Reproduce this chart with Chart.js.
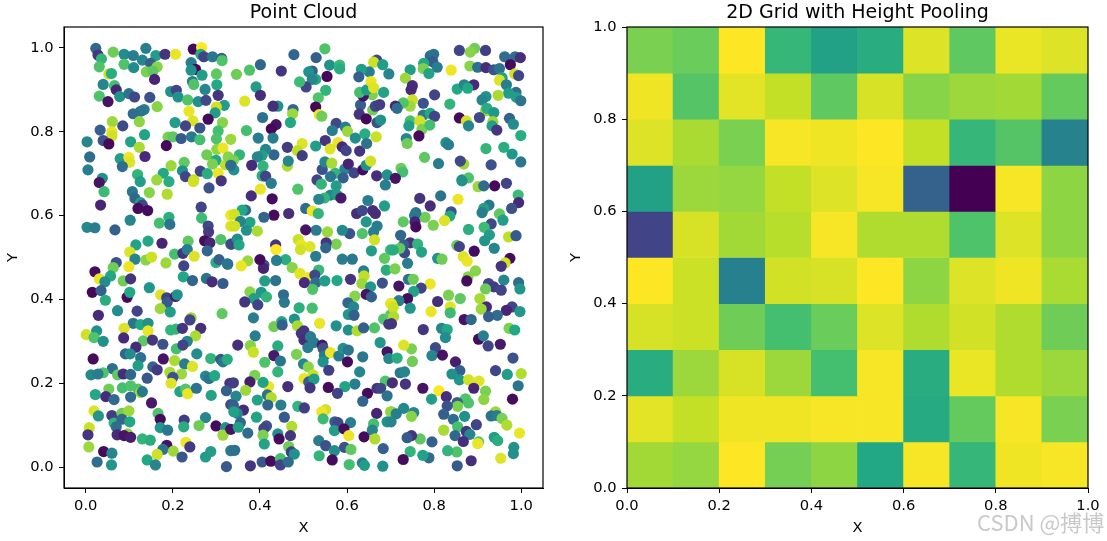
<!DOCTYPE html>
<html>
<head>
<meta charset="utf-8">
<style>
  html, body { margin: 0; padding: 0; background: #fff; width: 1107px; height: 541px; overflow: hidden; }
  canvas { position: absolute; top: 0; }
  #cloud { left: 0; }
  #grid { left: 563px; }
  #mark { position: absolute; left: 977px; top: 505px; font: 22px "Noto Sans CJK SC", "DejaVu Sans", sans-serif; color: #c9c9c9; white-space: nowrap; }
</style>
</head>
<body>
<canvas id="cloud" width="607" height="541"></canvas>
<canvas id="grid" width="589" height="541"></canvas>
<div id="mark">CSDN @搏博</div>
<script src="https://cdn.jsdelivr.net/npm/chart.js@4"></script>
<script>
const cloudX = [
.023,.028,.036,.031,.063,.088,.088,.109,.130,.138,.161,.110,.149,.164,.139,.154,.158,.182,.206,.247,
.266,.264,.271,.291,.312,.313,.242,.252,.242,.267,.300,.053,.059,.040,.066,.070,.031,.051,.078,.099,
.112,.147,.164,.195,.208,.212,.234,.258,.276,.274,.245,.248,.301,.304,.318,.300,.297,.237,.246,.281,
.314,.304,.262,.229,.205,.134,.126,.109,.123,.061,.085,.033,.060,.060,.040,.053,.003,.103,.135,.123,
.189,.200,.185,.219,.243,.262,.300,.333,.301,.315,.278,.009,.079,.099,.101,.136,.084,.005,.196,.226,
.263,.222,.299,.291,.304,.279,.321,.327,.119,.038,.178,.163,.229,.248,
.478,.529,.549,.401,.376,.346,.449,.560,.583,.583,.668,.661,.682,.651,.633,.627,.696,.520,.512,.528,
.520,.506,.491,.554,.551,.391,.401,.365,.534,.528,.536,.542,.476,.475,.441,.430,.406,.470,.437,.426,
.369,.396,.430,.463,.497,.486,.497,.528,.550,.579,.561,.589,.598,.629,.575,.566,.596,.601,.619,.641,
.645,.667,.631,.628,.644,.659,.665,.675,.669,.677,.658,.637,.629,.645,.655,.661,.684,.463,.465,.432,
.413,.405,.394,.381,.407,.340,.353,.339,.333,.405,.413,.531,.543,.549,.565,.573,.562,.595,.603,.616,
.636,.644,.654,.668,.692,.591,
.858,.893,.883,.918,.962,.986,.998,.975,.985,.994,.791,.799,.797,.807,.776,.775,.788,.839,.882,.900,
.919,.937,.950,.745,.734,.956,.950,.966,.750,.747,.853,.869,.891,.877,.801,.988,.971,.947,.919,.910,
.989,.999,.775,.836,.750,.745,.729,.711,.715,.918,.921,.937,.775,.791,.801,.858,.874,.879,.904,.935,
.933,.944,.973,.982,.999,.745,.742,.767,.772,.790,.765,.736,.738,.827,.833,.919,.960,.979,.999,.778,
.810,.868,.860,.931,.724,.728,.711,.864,.879,
.031,.042,.107,.113,.125,.126,.130,.120,.142,.146,.187,.191,.034,.283,.311,.247,.265,.266,.281,.282,
.273,.285,.310,.279,.333,.333,.333,.102,.191,.169,.193,.003,.021,.067,.115,.143,.175,.235,.101,.113,
.138,.151,.184,.204,.223,.233,.249,.225,.224,.245,.277,.290,.315,.299,.306,.325,.070,.063,.099,.021,
.031,.057,.044,.086,.103,.015,.035,.045,.095,.101,.146,.172,.186,.187,.206,.210,.171,.194,.118,.073,
.029,.242,.239,.313,.109,.126,.143,.088,.143,.025,.207,.195,.222,.264,
.426,.487,.401,.380,.428,.541,.575,.562,.548,.535,.577,.586,.648,.688,.686,.505,.520,.534,.466,.432,
.409,.367,.359,.341,.377,.355,.342,.369,.394,.622,.635,.659,.665,.644,.669,.661,.635,.606,.589,.555,
.529,.505,.488,.663,.575,.552,.551,.515,.495,.493,.436,.437,.335,.348,.352,.656,.700,.528,.459,.438,
.409,.408,.400,.372,.357,.326,.589,.612,.686,.474,.492,.510,.535,.526,.502,.528,.521,.549,.577,.608,
.638,.639,.634,.654,.681,.690,.411,.436,.377,.403,.386,.415,.365,.395,.454,.456,.618,.644,.656,.602,
.615,.603,.616,.490,.520,.700,.684,.696,.700,.385,.537,.575,.479,.450,.432,.451,.486,.501,.603,.623,
.638,.663,
.864,.901,.914,.939,.966,.767,.815,.791,.855,.993,.994,.978,.926,.914,.910,.950,.958,.931,.839,.836,
.824,.798,.779,.758,.755,.756,.758,.729,.879,.915,.927,.916,.971,.988,.938,.723,.745,.762,.771,.730,
.732,.721,.706,.852,.858,.892,.867,.876,.808,.818,.974,.963,.954,.739,.710,.895,.878,.875,.960,.994,
.997,.925,.937,.954,.918,.741,.752,.719,.791,.770,.753,.739,.719,.702,.706,.745,.808,.833,.860,.905,
.920,.908,.837,.837,.793,.979,.966,.997,.945,.925,.869,.885,.707,.702,.775,.817,.830,.972,.985,
.001,.019,.040,.087,.132,.115,.153,.177,.252,.208,.233,.223,.255,.017,.091,.102,.126,.120,.178,.204,
.227,.245,.154,.164,.061,.040,.012,.028,.073,.086,.103,.141,.193,.220,.200,.196,.275,.283,.296,.287,
.310,.315,.325,.331,.022,.053,.046,.065,.084,.103,.120,.126,.130,.103,.151,.216,.229,.234,.254,.288,
.323,.333,.019,.029,.060,.065,.083,.099,.083,.101,.070,.166,.171,.171,.188,.226,.225,.275,.260,.299,
.321,.315,.333,.008,.005,.072,.096,.088,.103,.007,.130,.148,.230,.239,.186,.177,.201,.164,.141,.160,
.221,.041,.060,.026,.059,.275,.287,.323,.333,
.389,.441,.349,.378,.385,.432,.447,.411,.441,.484,.495,.501,.516,.510,.524,.543,.545,.548,.545,.562,
.581,.591,.603,.601,.636,.676,.692,.696,.500,.511,.558,.629,.522,.501,.512,.524,.515,.688,.618,.595,
.557,.578,.464,.420,.407,.388,.377,.367,.339,.345,.394,.417,.426,.418,.448,.487,.502,.647,.669,.677,
.692,.636,.668,.700,.551,.542,.545,.339,.362,.348,.340,.392,.355,.350,.372,.456,.415,.409,.407,.410,
.473,.441,.470,.444,.466,.472,.479,.572,.579,.608,.571,.593,.604,.535,.551,.571,.594,.609,.536,.566,
.661,.658,.639,.664,.683,.692,.342,.378,.405,.425,.447,.447,.465,.605,.635,.640,.682,
.826,.902,.913,.924,.952,.981,.941,.968,1.000,.993,.980,.748,.730,.715,.750,.803,.795,.819,.849,.859,
.841,.858,.879,.903,.891,.918,.914,.722,.732,.704,.734,.774,.811,.828,.794,.872,.879,.853,.854,.830,
.822,.844,.870,.897,.854,.822,.874,.882,.848,.867,.902,.900,.702,.730,.753,.713,.748,.701,.941,.931,
.944,.956,.967,.996,.938,.946,.983,.982,.953,.885,.853,.852,.831,.788,.774,.745,.729,.768,.795,.748,
.738
];
const cloudY = [
.999,.983,.974,.955,.990,.985,.961,.982,.971,.999,.982,.953,.963,.955,.943,.945,.925,.985,.985,.997,
1.001,.985,.979,.979,.975,.970,.965,.949,.947,.935,.938,.938,.939,.913,.910,.900,.885,.872,.884,.891,
.883,.882,.860,.896,.899,.883,.876,.872,.875,.901,.920,.913,.912,.887,.863,.859,.845,.849,.826,.830,
.822,.802,.809,.814,.822,.853,.849,.843,.824,.824,.814,.804,.800,.790,.779,.771,.776,.776,.793,.763,
.787,.788,.767,.784,.788,.781,.783,.782,.758,.761,.745,.740,.736,.739,.727,.741,.717,.709,.719,.727,
.706,.707,.732,.723,.701,.700,.721,.740,.698,.689,.701,.685,.693,.685,
.984,.977,.998,.960,.947,.937,.945,.959,.959,.950,.971,.966,.960,.943,.949,.931,.938,.945,.943,.925,
.925,.907,.919,.932,.899,.907,.887,.873,.881,.859,.841,.837,.853,.843,.861,.861,.834,.822,.817,.807,
.803,.785,.785,.763,.772,.755,.743,.766,.779,.774,.759,.764,.755,.754,.820,.803,.811,.801,.785,.795,
.772,.788,.864,.842,.831,.852,.861,.865,.822,.828,.888,.885,.894,.900,.920,.905,.894,.718,.730,.745,
.758,.744,.740,.720,.718,.709,.745,.732,.720,.695,.694,.685,.710,.728,.725,.701,.693,.711,.723,.702,
.709,.720,.730,.695,.697,.690,
.994,.999,.990,.994,.979,.979,.977,.960,.938,.934,.981,.985,.967,.954,.963,.951,.939,.947,.957,.954,
.953,.948,.951,.948,.928,.929,.923,.912,.910,.900,.902,.912,.912,.904,.888,.894,.892,.887,.884,.876,
.882,.874,.868,.866,.876,.861,.869,.861,.856,.850,.856,.846,.840,.844,.837,.833,.826,.814,.834,.824,
.814,.804,.832,.818,.791,.826,.814,.826,.806,.816,.790,.784,.772,.774,.769,.760,.763,.747,.728,.739,
.724,.723,.730,.721,.713,.704,.689,.685,.690,
.679,.657,.657,.641,.681,.631,.625,.617,.612,.655,.651,.681,.625,.666,.683,.681,.620,.594,.575,.561,
.540,.535,.543,.516,.532,.601,.575,.589,.596,.582,.579,.572,.571,.566,.530,.539,.534,.539,.513,.496,
.494,.501,.487,.508,.510,.519,.503,.480,.454,.445,.450,.442,.438,.488,.495,.485,.488,.476,.478,.466,
.449,.456,.442,.444,.449,.417,.421,.398,.405,.417,.428,.411,.404,.393,.407,.411,.378,.370,.372,.373,
.362,.356,.351,.366,.343,.340,.343,.331,.325,.325,.329,.327,.331,.331,
.677,.663,.663,.647,.640,.675,.671,.649,.642,.639,.649,.642,.636,.673,.623,.617,.611,.605,.605,.601,
.596,.613,.613,.603,.584,.586,.575,.565,.563,.605,.612,.612,.605,.585,.575,.561,.557,.557,.565,.561,
.565,.566,.543,.542,.532,.535,.523,.526,.530,.519,.530,.519,.532,.544,.530,.516,.518,.503,.495,.493,
.482,.474,.495,.492,.480,.484,.496,.496,.498,.476,.462,.452,.470,.458,.440,.440,.424,.444,.445,.448,
.468,.456,.438,.430,.439,.470,.444,.445,.418,.417,.402,.406,.394,.387,.411,.393,.408,.412,.406,.392,
.382,.364,.362,.380,.379,.390,.353,.341,.363,.356,.343,.337,.353,.347,.335,.339,.337,.325,.327,.325,
.332,.332,
.683,.669,.671,.671,.677,.641,.647,.623,.639,.649,.631,.617,.625,.617,.607,.604,.589,.580,.609,.599,
.588,.577,.596,.607,.600,.585,.573,.585,.567,.572,.554,.540,.549,.552,.522,.553,.535,.532,.513,.530,
.511,.522,.518,.529,.526,.515,.502,.491,.498,.496,.498,.487,.479,.486,.473,.468,.454,.444,.446,.440,
.425,.438,.430,.422,.425,.448,.448,.432,.437,.427,.419,.402,.397,.390,.381,.379,.395,.410,.402,.402,
.382,.377,.382,.368,.371,.382,.374,.371,.362,.359,.352,.352,.359,.342,.328,.331,.328,.331,.327,
.316,.309,.300,.308,.301,.286,.303,.293,.313,.282,.300,.291,.270,.258,.270,.270,.261,.242,.258,.254,
.246,.240,.239,.232,.235,.225,.220,.222,.220,.222,.221,.212,.226,.222,.214,.200,.217,.211,.218,.259,
.257,.251,.257,.200,.173,.186,.168,.161,.189,.194,.186,.178,.180,.167,.153,.180,.186,.175,.188,.171,
.182,.149,.134,.122,.123,.105,.128,.134,.114,.108,.096,.128,.114,.094,.088,.112,.096,.118,.099,.098,
.094,.076,.090,.094,.077,.077,.079,.075,.071,.048,.067,.064,.059,.048,.052,.042,.038,.030,.017,.005,
.024,.037,.033,.012,.005,.024,.037,.001,.039,
.313,.289,.291,.290,.274,.266,.253,.250,.227,.269,.319,.303,.311,.285,.297,.291,.283,.266,.251,.273,
.265,.283,.279,.251,.263,.297,.275,.259,.246,.239,.231,.227,.220,.211,.203,.210,.189,.205,.198,.192,
.190,.176,.192,.192,.202,.219,.203,.183,.201,.169,.160,.172,.166,.148,.148,.145,.141,.176,.188,.188,
.170,.157,.128,.132,.137,.132,.115,.147,.136,.128,.132,.119,.106,.095,.081,.119,.098,.092,.076,.055,
.097,.079,.075,.067,.049,.036,.031,.108,.106,.106,.087,.091,.075,.063,.051,.039,.047,.042,.027,.017,
.103,.088,.072,.067,.044,.108,.040,.003,.012,.014,.020,.005,.012,.006,.010,.004,.002,
.309,.305,.313,.289,.293,.260,.230,.221,.223,.194,.162,.282,.291,.260,.252,.285,.266,.267,.251,.230,
.222,.208,.208,.205,.188,.181,.161,.225,.227,.201,.198,.188,.182,.168,.162,.163,.153,.154,.145,.146,
.126,.114,.121,.101,.096,.088,.085,.078,.075,.061,.060,.056,.132,.140,.130,.127,.121,.108,.132,.122,
.123,.116,.100,.081,.071,.063,.047,.032,.021,.015,.003,.036,.039,.022,.028,.037,.018,.067,.060,.075,
.070
];
const cloudHeight = [
.33,.15,.65,.72,.78,.48,.72,.42,.45,.42,.55,.48,.30,.82,.80,.75,.10,.15,.97,.02,
1,.62,.20,.40,.30,.72,.42,.02,.50,.55,.75,.92,.62,.45,.70,.10,.72,.05,.50,.38,
.22,.25,.82,.50,.20,.50,.72,.50,.22,.45,.42,.72,.60,.15,.55,.93,.55,.97,.95,.03,
.82,.70,.25,.20,.55,.42,.38,.35,.83,.85,.22,.30,.97,.93,.25,.02,.45,.58,.58,.87,
.80,.75,.02,.28,.40,.70,.72,.85,.83,.98,.78,.35,.55,.98,.95,.12,.35,.42,.85,.75,
.20,.50,.60,.80,.97,.62,.90,.82,.65,.50,.60,.85,.20,.90,
.32,.30,.72,.33,.72,.78,.15,.50,.67,.62,.20,.92,.55,.42,.55,.30,.45,.30,.50,.60,
.45,.20,.68,.02,.65,.55,.13,.95,.72,.02,.97,.78,.33,.85,.50,.13,.37,.60,.05,.02,
.70,.42,.42,.17,.95,.90,.18,.55,.15,.97,.95,.12,.20,.15,.22,.42,.42,.85,.48,.62,
.38,.92,.30,.15,.02,.78,.20,.18,.25,.50,.80,.05,.70,.55,.97,.95,.58,.88,.45,.33,
.45,.55,.45,.12,.65,.50,.65,.80,.35,.62,.20,.20,.25,.45,.87,.65,.40,.45,.10,.20,
.03,.50,.93,.13,.50,.30,
.20,.78,.82,.18,.35,.35,.13,.03,.92,.20,.35,.37,.28,.42,.60,.80,.58,.98,.82,.37,
.13,.25,.38,.55,.85,.58,.95,.42,.13,.12,.60,.45,.12,.60,.20,.35,.55,.87,.50,.45,
.55,.38,.25,.65,.92,.85,.72,.10,.35,.85,.62,.52,.40,.60,.20,.02,.93,.45,.22,.85,
.55,.15,.32,.48,.62,.70,.55,.93,.80,.70,.03,.45,.78,.50,.42,.65,.62,.52,.40,.75,
.42,.85,.22,.25,.78,.70,.05,.45,.72,
.05,.68,.40,.33,.55,.57,.20,.03,.03,.82,.88,.62,.10,.25,.15,.93,.20,.68,.22,.17,
.03,.10,.72,.33,.27,.98,.95,.45,.63,.70,.38,.47,.42,.30,.58,.60,.10,.75,.95,.45,
.82,.92,.85,.70,.15,.42,.95,.20,.60,.32,.38,.13,.28,.62,.30,.42,.25,.78,.98,.03,
.97,.60,.48,.78,.15,.02,.30,.62,.03,.60,.52,.95,.18,.28,.07,.50,.85,.55,.20,.48,
.12,.85,.20,.75,.38,.60,.50,.95,.97,.50,.65,.65,.15,.13,
.42,.72,.97,.13,.03,.65,.55,.47,.65,.45,.55,.07,.42,.42,.55,.35,.98,.65,.13,.03,
.33,.35,.60,.93,.58,.45,.93,.50,.87,.13,.22,.13,.13,.53,.42,.42,.72,.25,.47,.85,
.42,.05,.92,.93,.80,.15,.33,.95,.97,.93,.15,1,.22,.48,.60,.55,.65,.42,.62,.42,
.25,.10,.03,.85,.97,.38,.42,.40,.75,.82,.96,.98,.67,.22,.12,.35,.72,.55,.60,.15,
.42,.90,.85,.52,.25,.62,.55,.38,.82,.52,.55,.65,.15,.20,.35,.40,.82,.05,.30,.33,
.45,.52,.30,.63,.70,.95,.72,.15,.75,.42,.97,.50,.50,.60,.78,.30,.87,.15,.50,.88,
.30,.72,
.50,.85,.35,.03,.20,.15,.38,.13,.98,.68,.12,.25,.40,.55,.42,.75,.55,.22,.25,.60,
.95,.80,.78,.38,.40,.10,.03,.75,.63,.68,.55,.52,.90,.28,.45,.33,.15,.65,.58,.30,
.22,.75,.62,.78,.20,.03,.95,.97,.50,.78,.03,.93,.15,.42,.80,.82,.82,.03,.45,.35,
.52,.20,.18,.20,.78,.38,.78,.05,.97,.20,.58,.03,.42,.97,.92,.52,.13,.80,.75,.87,
.12,.85,.95,.68,.97,.20,.10,.53,.35,.30,.05,.33,.88,.15,.15,.45,.60,.80,.60,
.93,.72,.50,.12,.75,.12,.15,.25,.87,.70,.45,.20,.48,.03,.33,.48,.37,.55,.05,.87,
.42,.95,.32,.17,.35,.72,.47,.42,.75,.13,.33,.27,.87,.85,.25,.95,.47,.38,.60,.65,
.25,.40,.62,.15,.60,.78,.12,.35,.70,.72,.72,.87,.40,.35,.07,.58,.72,.97,.38,.58,
.30,.22,.95,.52,.18,.65,.78,.85,.33,.60,.35,.72,.03,.52,.40,.18,.62,.45,.78,.03,
.50,.85,.05,.92,.15,.12,.83,.05,.08,.85,.65,.62,.98,.17,.05,.38,.85,.93,.60,.45,
.27,.03,.45,.35,.52,.55,.55,.28,.40,
.42,.62,.13,.82,.92,.07,.38,.72,.65,.80,.15,.13,.42,.42,.42,.07,.25,.40,.50,.97,
.42,.50,.38,.03,.40,.52,.05,.45,.45,.82,.18,.45,.92,.97,.30,.55,.15,.72,.42,.58,
.03,.20,.13,.97,.58,.80,.08,.85,.18,.45,.58,.38,.88,.33,.42,.65,.18,.03,.15,.20,
.38,.33,.10,.85,.93,.98,.68,.30,.12,.47,.58,.58,.33,.55,.35,.28,.25,.20,.80,.58,
.88,.50,.15,.03,.78,.18,.50,.30,.22,.42,.55,.03,.97,.42,.25,.48,.25,.75,.65,.03,
.70,.45,.03,.88,.30,.50,.37,.15,.27,.03,.70,.20,.35,.70,.42,.55,.50,
.48,.03,.42,.20,.07,.25,.20,.55,.88,.38,.03,.80,.95,.62,.78,.22,.45,.05,.08,.30,
.50,.52,.93,.95,.10,.80,.83,.40,.45,.13,.15,.05,1,.13,.55,.72,.72,.30,.80,.25,
.30,.35,.50,.20,.70,.87,.15,.45,.33,.13,.72,.97,.83,.47,.45,.42,.82,.45,.85,.38,
.42,.80,.88,.97,.55,.62,.50,.50,.95,.13,.28,.72,.65,.35,.58,.65,.03,.75,.30,.15,
.28
];

const gridColumns = [0.05, 0.15, 0.25, 0.35, 0.45, 0.55, 0.65, 0.75, 0.85, 0.95];
const gridRows = [0.9, 0.8, 0.7, 0.6, 0.5, 0.4, 0.3, 0.2, 0.1, 0.0];
const gridHeights = [
  [.80, .77, 1.0, .66, .57, .62, .95, .75, .97, .95],
  [.98, .73, .96, .91, .75, .94, .82, .85, .86, .76],
  [.95, .87, .80, .99, .98, 1.0, .91, .66, .73, .44],
  [.57, .85, .84, .91, .95, .99, .31, .00, .99, .83],
  [.20, .94, .86, .89, .99, .88, .88, .72, .95, .83],
  [1.0, .92, .43, .93, .94, 1.0, .83, .95, .98, .87],
  [.94, .92, .78, .70, .77, .95, .88, .93, .88, .78],
  [.62, .85, .94, .85, .70, .99, .62, .97, .88, .85],
  [.96, .91, .98, .98, .99, .99, .61, .76, .99, .80],
  [.86, .84, 1.0, .79, .83, .60, .99, .66, .98, .99]
];
const tickValues = [0, 0.2, 0.4, 0.6, 0.8, 1.0];

const viridis = [[68,1,84],[72,36,117],[65,68,135],[53,95,141],[42,120,142],[33,145,140],
                 [34,168,132],[68,191,112],[122,209,81],[189,223,38],[253,231,37]];

function heightColor(h) {
    const pos = Math.min(h, 1) * 10;
    const i = Math.min(Math.floor(pos), 9);
    const t = pos - i;
    const c = viridis[i].map((v, k) => Math.round(v + (viridis[i + 1][k] - v) * t));
    return 'rgb(' + c.join(',') + ')';
}

const textFont = 'DejaVu Sans';

// the top and right sides of the box
const frame = {
    id: 'frame',
    afterDraw(chart) {
        const a = chart.chartArea, ctx = chart.ctx;
        ctx.save();
        ctx.strokeStyle = '#000';
        ctx.lineWidth = 1.2;
        ctx.strokeRect(a.left, a.top, a.right - a.left, a.bottom - a.top);
        ctx.restore();
    }
};

function axis(name, min, max) {
    return {
        type: 'linear',
        min: min,
        max: max,
        offset: false,
        grid: { display: true, offset: false, drawOnChartArea: false, color: '#000', tickColor: '#000', tickLength: 5, lineWidth: 1 },
        border: { display: true, color: '#000', width: 1 },
        afterBuildTicks: scale => { scale.ticks = tickValues.map(v => ({ value: v })); },
        afterFit: scale => {
            if (name === 'X') scale.height = 53;
            else scale.width = 64;
        },
        ticks: {
            autoSkip: false,
            maxRotation: 0,
            color: '#000',
            padding: name === 'X' ? 4 : 5.5,
            font: { family: textFont, size: 14.7 },
            callback: v => v.toFixed(1)
        },
        title: { display: true, text: name, color: '#000', padding: 4, font: { family: textFont, size: 14.7 } }
    };
}

// empty axis on the right, so the title centres over the plot
const rightMargin = {
    position: 'right',
    display: true,
    ticks: { display: false },
    grid: { display: false },
    border: { display: false },
    afterFit: scale => { scale.width = 64; }
};

function baseOptions(titleText, lo, hi) {
    return {
        responsive: false,
        animation: false,
        plugins: {
            legend: { display: false },
            tooltip: { enabled: false },
            title: { display: true, text: titleText, color: '#000', padding: { top: 2, bottom: 2.2 }, font: { family: textFont, size: 19, weight: 'normal' } }
        },
        scales: { x: axis('X', lo, hi), y: axis('Y', lo, hi), margin: rightMargin }
    };
}

new Chart(document.getElementById('cloud'), {
    type: 'scatter',
    data: {
        datasets: [{
            data: cloudX.map((x, i) => ({ x: x, y: cloudY[i] })),
            pointRadius: 5.6,
            pointBorderWidth: 0,
            pointBackgroundColor: cloudHeight.map(heightColor)
        }]
    },
    options: baseOptions('Point Cloud', -0.05, 1.05),
    plugins: [frame]
});

new Chart(document.getElementById('grid'), {
    type: 'bar',
    data: {
        datasets: gridRows.map((low, r) => ({
            data: gridColumns.map(x => ({ x: x, y: [low, low + 0.1] })),
            backgroundColor: gridHeights[r].map(heightColor),
            borderWidth: 0,
            barPercentage: 1,
            categoryPercentage: 1,
            grouped: false
        }))
    },
    options: baseOptions('2D Grid with Height Pooling', 0, 1),
    plugins: [frame]
});
</script>
</body>
</html>
